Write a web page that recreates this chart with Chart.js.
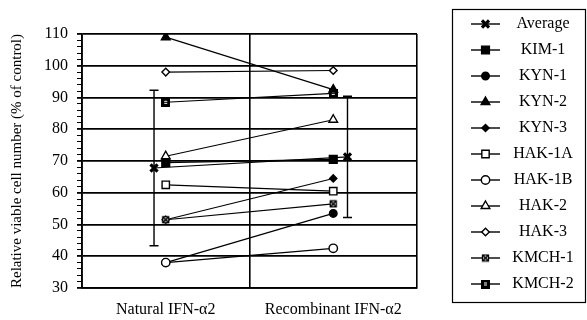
<!DOCTYPE html>
<html>
<head>
<meta charset="utf-8">
<script src="https://cdn.jsdelivr.net/npm/chart.js"></script>
<style>
  html, body { margin: 0; padding: 0; background: #fff; }
  canvas { display: block; }
</style>
</head>
<body>
<canvas id="c" width="587" height="320"></canvas>
<script>
// Treatments on the horizontal axis
const categories = ['Natural IFN-\u03b12', 'Recombinant IFN-\u03b12'];

// Mean of all cell lines and its standard deviation
const averageValues = [67.8, 71.3];
const averageSD = [24.5, 19.1];

// Individual cell lines (% of control)
const kim1 = [69.5, 70.5];
const kyn1 = [38, 53.5];
const kyn2 = [109, 92.5];
const kyn3 = [51.5, 64.5];
const hak1a = [62.5, 60.5];
const hak1b = [38, 42.5];
const hak2 = [71.5, 83];
const hak3 = [98, 98.5];
const kmch1 = [51.5, 56.5];
const kmch2 = [88.5, 91.3];

// Y axis range and labelled tick step
const yMin = 30, yMax = 110, yMajor = 10, yMinor = 2;

const FONT = '"Liberation Serif", "Times New Roman", serif';

// Small custom marker glyphs
function makeMarker(draw, size) {
  const cv = document.createElement('canvas');
  cv.width = size; cv.height = size;
  const g = cv.getContext('2d');
  draw(g, size);
  return cv;
}
const boxCross = makeMarker((g, s) => {
  g.fillStyle = '#fff';
  g.fillRect(1, 1, s - 2, s - 2);
  g.strokeStyle = '#000';
  g.lineWidth = 1.3;
  g.strokeRect(1.5, 1.5, s - 3, s - 3);
  g.lineWidth = 1.6;
  g.beginPath();
  g.moveTo(1.5, 1.5); g.lineTo(s - 1.5, s - 1.5);
  g.moveTo(s - 1.5, 1.5); g.lineTo(1.5, s - 1.5);
  g.stroke();
}, 9);
const boxDot = makeMarker((g, s) => {
  g.fillStyle = '#000';
  g.fillRect(0, 0, s, s);
  g.fillStyle = '#fff';
  g.fillRect(3, 3, s - 6, s - 6);
  g.fillStyle = '#000';
  g.fillRect(0, s / 2 - 0.5, s, 1);
}, 9);

// Natural values sit at x = 0.5, recombinant at x = 1.5
const X_POS = [0.5, 1.5];
const AVG_SHIFT = [-0.07, 0.085];

function pts(vals, shift) {
  return vals.map((v, i) => ({ x: X_POS[i] + (shift ? shift[i] : 0), y: v }));
}

function series(label, vals, style, radius, filled, extra) {
  return Object.assign({
    label: label,
    data: pts(vals),
    borderColor: '#000',
    borderWidth: 1.2,
    pointStyle: style,
    pointRadius: radius,
    pointBorderColor: '#000',
    pointBorderWidth: 1.4,
    pointBackgroundColor: filled ? '#000' : '#fff',
    showLine: true,
    fill: false,
    tension: 0
  }, extra || {});
}

const datasets = [
  Object.assign(series('Average', averageValues, 'crossRot', 5, true, { pointBorderWidth: 3.2 }),
    { data: pts(averageValues, AVG_SHIFT), errors: averageSD }),
  series('KIM-1', kim1, 'rect', 5.5, true),
  series('KYN-1', kyn1, 'circle', 3.8, true),
  series('KYN-2', kyn2, 'triangle', 5, true),
  series('KYN-3', kyn3, 'rectRot', 3.6, true),
  series('HAK-1A', hak1a, 'rect', 5.2, false, { order: -1 }),
  series('HAK-1B', hak1b, 'circle', 4.2, false, { order: -2 }),
  series('HAK-2', hak2, 'triangle', 5, false, { order: -1 }),
  series('HAK-3', hak3, 'rectRot', 3.8, false, { order: -1 }),
  series('KMCH-1', kmch1, boxCross, 4.5, false, { order: -2 }),
  series('KMCH-2', kmch2, boxDot, 4.5, true)
];

// Vertical error bars with caps on datasets that carry "errors"
const errorBars = {
  id: 'errorBars',
  beforeDatasetsDraw(chart) {
    const ctx = chart.ctx, ys = chart.scales.y, xs = chart.scales.x;
    chart.data.datasets.forEach(ds => {
      if (!ds.errors) return;
      ctx.save();
      ctx.strokeStyle = '#000';
      ctx.lineWidth = 1.4;
      ds.data.forEach((p, i) => {
        const px = xs.getPixelForValue(p.x);
        const top = ys.getPixelForValue(p.y + ds.errors[i]);
        const bot = ys.getPixelForValue(p.y - ds.errors[i]);
        ctx.beginPath();
        ctx.moveTo(px, top); ctx.lineTo(px, bot);
        ctx.moveTo(px - 4.5, top); ctx.lineTo(px + 4.5, top);
        ctx.moveTo(px - 4.5, bot); ctx.lineTo(px + 4.5, bot);
        ctx.stroke();
      });
      ctx.restore();
    });
  }
};

// Boxed legend at the right: line sample, marker, centred name
const boxLegend = {
  id: 'boxLegend',
  afterDraw(chart) {
    const ctx = chart.ctx;
    const left = 452, top = 9, right = 585, bottom = 302;
    const rowTop = 24, rowStep = 26;
    ctx.save();
    ctx.strokeStyle = '#000';
    ctx.lineWidth = 1.2;
    ctx.strokeRect(left + 0.5, top + 0.5, right - left, bottom - top);
    ctx.font = '16px ' + FONT;
    ctx.textAlign = 'center';
    ctx.textBaseline = 'middle';
    chart.data.datasets.forEach((ds, i) => {
      const y = rowTop + i * rowStep;
      ctx.strokeStyle = '#000';
      ctx.lineWidth = 1.4;
      ctx.beginPath();
      ctx.moveTo(471, y); ctx.lineTo(500, y);
      ctx.stroke();
      ctx.fillStyle = ds.pointBackgroundColor;
      ctx.strokeStyle = ds.pointBorderColor;
      ctx.lineWidth = ds.pointBorderWidth;
      Chart.helpers.drawPoint(ctx, {
        pointStyle: ds.pointStyle,
        radius: ds.pointRadius,
        borderWidth: ds.pointBorderWidth,
        rotation: 0
      }, 485.5, y);
      ctx.fillStyle = '#000';
      ctx.fillText(ds.label, 543, y);
    });
    ctx.restore();
  }
};

const isMajor = v => Math.abs(v % yMajor) < 1e-6;
const isWhole = v => Math.abs(v - Math.round(v)) < 1e-6;

new Chart(document.getElementById('c'), {
  type: 'scatter',
  data: { datasets: datasets },
  plugins: [errorBars, boxLegend],
  options: {
    responsive: false,
    animation: false,
    devicePixelRatio: 1,
    layout: { padding: { top: 34, right: 170, left: 0, bottom: 0 } },
    plugins: { legend: { display: false }, tooltip: { enabled: false } },
    scales: {
      x: {
        type: 'linear',
        min: 0,
        max: categories.length,
        afterBuildTicks(scale) {
          const t = [];
          for (let i = 0; i <= categories.length; i++) {
            t.push({ value: i });
            if (i < categories.length) t.push({ value: i + 0.5 });
          }
          scale.ticks = t;
        },
        afterFit(scale) { scale.height = 32; },
        grid: {
          color: c => (c.tick && isWhole(c.tick.value)) ? '#000' : 'rgba(0,0,0,0)',
          lineWidth: 1.6,
          drawTicks: false
        },
        border: { display: true, color: '#000', width: 1.8 },
        ticks: {
          autoSkip: false,
          maxRotation: 0,
          padding: 12,
          color: '#000',
          font: { family: FONT, size: 16 },
          callback: v => isWhole(v) ? '' : categories[Math.floor(v)]
        }
      },
      y: {
        min: yMin,
        max: yMax,
        afterFit(scale) { scale.width = 82; },
        grid: {
          color: c => (c.tick && isMajor(c.tick.value)) ? '#000' : 'rgba(0,0,0,0)',
          tickColor: '#000',
          lineWidth: c => (c.tick && isMajor(c.tick.value)) ? 1.8 : 1,
          tickLength: 5
        },
        border: { display: true, color: '#000', width: 1.8 },
        ticks: {
          stepSize: yMinor,
          autoSkip: false,
          padding: 9,
          color: '#000',
          font: { family: FONT, size: 16 },
          callback: v => isMajor(v) ? String(v) : ''
        },
        title: {
          display: true,
          text: 'Relative viable cell number (% of control)',
          color: '#000',
          font: { family: FONT, size: 15 },
          padding: { top: 8, bottom: 0 }
        }
      }
    }
  }
});
</script>
</body>
</html>
